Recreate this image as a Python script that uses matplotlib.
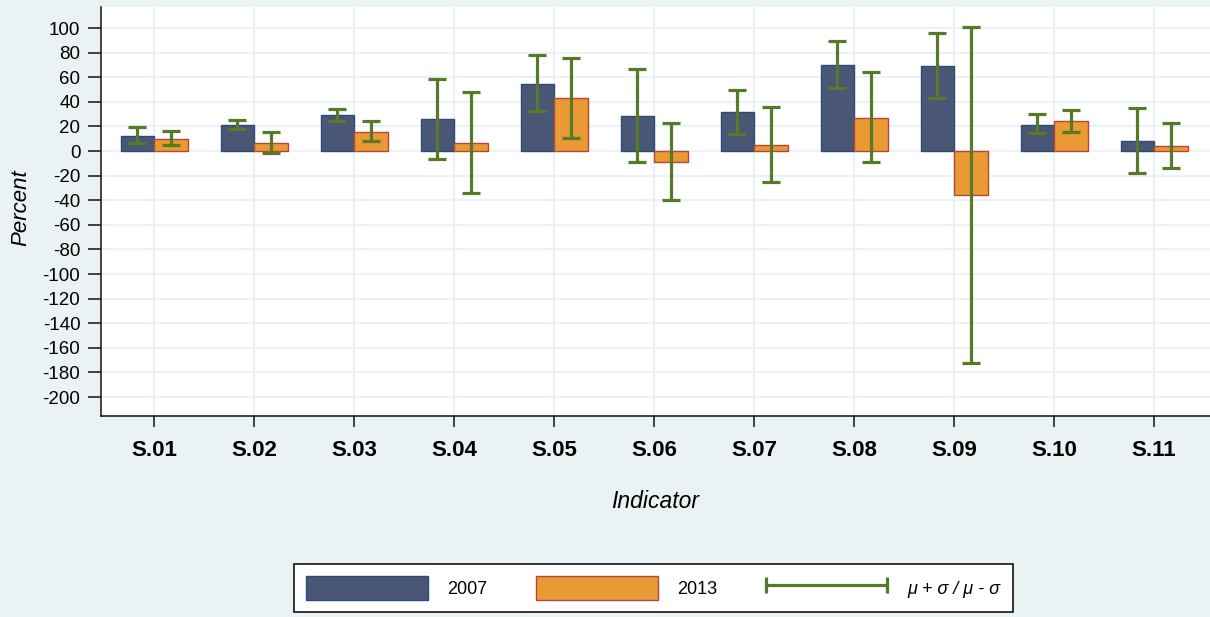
import numpy as np
import matplotlib.pyplot as plt
from matplotlib.patches import Patch
from matplotlib.lines import Line2D
from matplotlib.legend_handler import HandlerLine2D

indicators = ['S.01', 'S.02', 'S.03', 'S.04', 'S.05', 'S.06',
              'S.07', 'S.08', 'S.09', 'S.10', 'S.11']

# mean values (percent)
mean_2007 = [12.4, 21.4, 29.3, 25.8, 54.7, 28.5, 31.4, 69.7, 69.1, 21.4, 8.1]
mean_2013 = [10.0, 6.8, 15.7, 6.2, 42.8, -8.9, 5.1, 27.1, -35.5, 24.4, 3.8]

# mu + sigma / mu - sigma
upper_2007 = [19.2, 25.2, 34.1, 58.5, 77.8, 66.7, 49.9, 89.2, 96.2, 29.8, 35.2]
lower_2007 = [6.5, 18.1, 24.6, -6.8, 32.8, -8.7, 13.5, 51.0, 43.4, 14.6, -18.1]
upper_2013 = [16.3, 15.4, 24.1, 48.0, 75.3, 23.0, 35.8, 64.0, 101.1, 33.6, 22.5]
lower_2013 = [4.6, -1.4, 7.9, -34.1, 10.8, -40.1, -25.5, -8.9, -172.4, 15.4, -13.8]

bg = '#EAF2F3'
c2007 = '#4A5675'
e2007 = '#2A4C78'
c2013 = '#EA9A35'
e2013 = '#B4463A'
cerr = '#577A2A'

plt.rcParams['axes.unicode_minus'] = False

fig = plt.figure(figsize=(12.1, 6.17), dpi=100, facecolor=bg)
ax = fig.add_axes([0.0835, 0.3258, 0.9165, 0.6629])
ax.set_facecolor('white')

x = np.arange(len(indicators))
w = 0.335

ax.bar(x - w / 2, mean_2007, w, color=c2007, edgecolor=e2007, linewidth=1, zorder=2)
ax.bar(x + w / 2, mean_2013, w, color=c2013, edgecolor=e2013, linewidth=1, zorder=2)

for xs, lo, hi in [(x - w / 2, lower_2007, upper_2007), (x + w / 2, lower_2013, upper_2013)]:
    lo = np.array(lo)
    hi = np.array(hi)
    mid = (lo + hi) / 2
    ax.errorbar(xs, mid, yerr=[mid - lo, hi - mid], fmt='none', ecolor=cerr,
                elinewidth=2.3, capsize=6.2, capthick=2.3, zorder=3)

ax.set_xlim(-0.53, 10.56)
ax.set_ylim(-215.4, 117.1)
ax.set_yticks(np.arange(-200, 101, 20))
ax.set_xticks(x)
ax.set_xticklabels(indicators)

ax.grid(True, color=bg, linewidth=1.6, zorder=0)
ax.set_axisbelow(True)

for s in ['top', 'right']:
    ax.spines[s].set_visible(False)
for s in ['left', 'bottom']:
    ax.spines[s].set_linewidth(1.1)
    ax.spines[s].set_color('#111111')

ax.tick_params(axis='y', length=9.4, width=1.1, pad=5.5, labelsize=13.5, color='#111111')
ax.tick_params(axis='x', length=8, width=1.1, pad=9, color='#111111')
for lab in ax.get_xticklabels():
    lab.set_fontsize(16)
    lab.set_fontweight('bold')
    lab.set_family('Liberation Sans')
for lab in ax.get_yticklabels():
    lab.set_family('Liberation Sans')

ax.set_ylabel('Percent', fontsize=16, style='italic', family='Liberation Sans')
ax.yaxis.set_label_coords(-0.063, 0.51)
ax.set_xlabel('Indicator', fontsize=16.5, style='italic', family='Liberation Sans')
ax.xaxis.set_label_coords(0.5, -0.182)

handles = [
    Patch(facecolor=c2007, edgecolor=e2007, linewidth=1),
    Patch(facecolor=c2013, edgecolor=e2013, linewidth=1),
    Line2D([], [], color=cerr, linewidth=2.3, marker='|', markersize=11, markeredgewidth=2.3),
]
labels = ['2007', '2013', 'μ + σ / μ - σ']
leg = fig.legend(handles, labels, ncol=3, loc='center', bbox_to_anchor=(0.5397, 0.047),
                 numpoints=2, handlelength=6.75, handleheight=1.66, handletextpad=1.1,
                 columnspacing=2.66, borderpad=0.68, fancybox=False, framealpha=1,
                 edgecolor='black', prop={'family': 'Liberation Sans', 'size': 13},
                 handler_map={Line2D: HandlerLine2D(marker_pad=0)})
leg.get_frame().set_linewidth(1.1)
leg.get_texts()[2].set_style('italic')

fig.savefig('out.png', dpi=100, facecolor=bg)
